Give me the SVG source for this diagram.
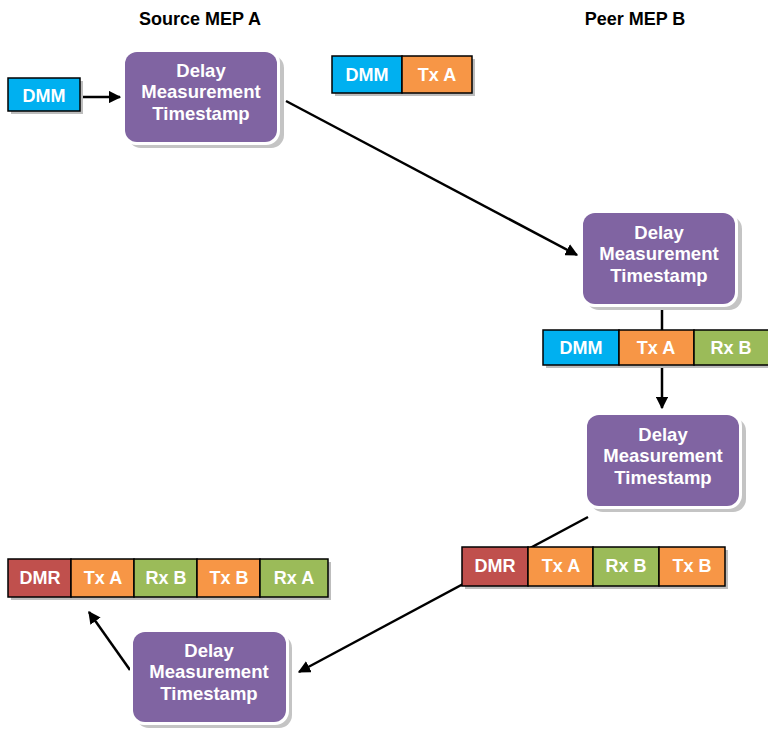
<svg xmlns="http://www.w3.org/2000/svg" width="768" height="730" viewBox="0 0 768 730">
  <defs>
    <style>
      .hdr { font-family: "Liberation Sans", Arial, sans-serif; font-weight: bold; font-size: 18px; fill: #000; text-anchor: middle; }
      .ntxt { font-family: "Liberation Sans", Arial, sans-serif; font-weight: bold; font-size: 18.5px; fill: #fff; text-anchor: middle; }
      .stxt { font-family: "Liberation Sans", Arial, sans-serif; font-weight: bold; font-size: 18px; fill: #fff; text-anchor: middle; }
      .nshadow { fill: #c4c4c4; }
      .nring { fill: #fff; }
      .nbody { fill: #8064A2; }
      .sshadow { fill: #bdbdbd; }
      .seg { stroke: #000; stroke-width: 1.5; }
      .blue { fill: #00B0F0; }
      .orange { fill: #F79646; }
      .green { fill: #9BBB59; }
      .red { fill: #C0504D; }
      .conn { stroke: #000; stroke-width: 2.5; fill: none; }
    </style>
    <marker id="arrow" viewBox="0 0 10 10" refX="9" refY="5" markerWidth="5" markerHeight="5" markerUnits="strokeWidth" orient="auto">
      <path d="M0,0 L10,5 L0,10 z" fill="#000"/>
    </marker>
  </defs>

  <rect width="768" height="730" fill="#fff"/>

  <!-- column headers -->
  <text class="hdr" x="200" y="25">Source MEP A</text>
  <text class="hdr" x="635" y="25">Peer MEP B</text>

  <!-- connectors -->
  <g id="connectors">
    <line class="conn" x1="80" y1="97" x2="120" y2="97" marker-end="url(#arrow)"/>
    <line class="conn" x1="286" y1="101" x2="577" y2="255" marker-end="url(#arrow)"/>
    <line class="conn" x1="662" y1="307" x2="662" y2="331"/>
    <line class="conn" x1="662" y1="365" x2="662" y2="408" marker-end="url(#arrow)"/>
    <line class="conn" x1="588" y1="517" x2="299" y2="672" marker-end="url(#arrow)"/>
    <line class="conn" x1="130" y1="670" x2="89" y2="612" marker-end="url(#arrow)"/>
  </g>

  <!-- input frame: DMM -->
  <g id="dmm-in">
    <rect class="sshadow" x="11" y="81" width="72" height="33"/>
    <rect class="seg blue" x="8" y="78" width="72" height="33"/>
    <text class="stxt" x="44" y="102">DMM</text>
  </g>

  <!-- timestamp node at source (transmit) -->
  <g id="ts-a-tx">
    <rect class="nshadow" x="128" y="55" width="156" height="93" rx="13"/>
    <rect class="nring" x="122" y="49" width="158" height="96" rx="14"/>
    <rect class="nbody" x="125" y="52" width="152" height="90" rx="12"/>
    <text class="ntxt" x="201" y="77">Delay</text>
    <text class="ntxt" x="201" y="98">Measurement</text>
    <text class="ntxt" x="201" y="120">Timestamp</text>
  </g>

  <!-- frame on the wire: DMM + Tx A -->
  <g id="frame-1">
    <rect class="sshadow" x="335" y="59" width="140" height="37"/>
    <rect class="seg blue" x="332" y="56" width="70" height="37"/>
    <rect class="seg orange" x="402" y="56" width="70" height="37"/>
    <text class="stxt" x="367" y="81">DMM</text>
    <text class="stxt" x="437" y="81">Tx A</text>
  </g>

  <!-- timestamp node at peer (receive) -->
  <g id="ts-b-rx">
    <rect class="nshadow" x="586" y="216" width="156" height="94" rx="13"/>
    <rect class="nring" x="580" y="210" width="158" height="97" rx="14"/>
    <rect class="nbody" x="583" y="213" width="152" height="91" rx="12"/>
    <text class="ntxt" x="659" y="239">Delay</text>
    <text class="ntxt" x="659" y="260">Measurement</text>
    <text class="ntxt" x="659" y="282">Timestamp</text>
  </g>

  <!-- frame: DMM + Tx A + Rx B -->
  <g id="frame-2">
    <rect class="sshadow" x="546" y="333" width="225" height="35"/>
    <rect class="seg blue" x="543" y="330" width="76" height="35"/>
    <rect class="seg orange" x="619" y="330" width="75" height="35"/>
    <rect class="seg green" x="694" y="330" width="75" height="35"/>
    <text class="stxt" x="581" y="354">DMM</text>
    <text class="stxt" x="656" y="354">Tx A</text>
    <text class="stxt" x="731" y="354">Rx B</text>
  </g>

  <!-- timestamp node at peer (transmit) -->
  <g id="ts-b-tx">
    <rect class="nshadow" x="590" y="418" width="156" height="94" rx="13"/>
    <rect class="nring" x="584" y="412" width="158" height="97" rx="14"/>
    <rect class="nbody" x="587" y="415" width="152" height="91" rx="12"/>
    <text class="ntxt" x="663" y="441">Delay</text>
    <text class="ntxt" x="663" y="462">Measurement</text>
    <text class="ntxt" x="663" y="484">Timestamp</text>
  </g>

  <!-- reply frame: DMR + Tx A + Rx B + Tx B -->
  <g id="frame-3">
    <rect class="sshadow" x="465" y="550" width="263" height="39"/>
    <rect class="seg red" x="462" y="547" width="66" height="39"/>
    <rect class="seg orange" x="528" y="547" width="65" height="39"/>
    <rect class="seg green" x="593" y="547" width="66" height="39"/>
    <rect class="seg orange" x="659" y="547" width="66" height="39"/>
    <text class="stxt" x="495" y="572">DMR</text>
    <text class="stxt" x="561" y="572">Tx A</text>
    <text class="stxt" x="626" y="572">Rx B</text>
    <text class="stxt" x="692" y="572">Tx B</text>
  </g>

  <!-- timestamp node at source (receive) -->
  <g id="ts-a-rx">
    <rect class="nshadow" x="136" y="635" width="156" height="93" rx="13"/>
    <rect class="nring" x="130" y="629" width="159" height="96" rx="14"/>
    <rect class="nbody" x="133" y="632" width="153" height="90" rx="12"/>
    <text class="ntxt" x="209" y="657">Delay</text>
    <text class="ntxt" x="209" y="678">Measurement</text>
    <text class="ntxt" x="209" y="700">Timestamp</text>
  </g>

  <!-- final frame: DMR + Tx A + Rx B + Tx B + Rx A -->
  <g id="frame-4">
    <rect class="sshadow" x="11" y="562" width="320" height="38"/>
    <rect class="seg red" x="8" y="559" width="63" height="38"/>
    <rect class="seg orange" x="71" y="559" width="63" height="38"/>
    <rect class="seg green" x="134" y="559" width="63" height="38"/>
    <rect class="seg orange" x="197" y="559" width="63" height="38"/>
    <rect class="seg green" x="260" y="559" width="68" height="38"/>
    <text class="stxt" x="40" y="584">DMR</text>
    <text class="stxt" x="103" y="584">Tx A</text>
    <text class="stxt" x="166" y="584">Rx B</text>
    <text class="stxt" x="229" y="584">Tx B</text>
    <text class="stxt" x="294" y="584">Rx A</text>
  </g>
</svg>
